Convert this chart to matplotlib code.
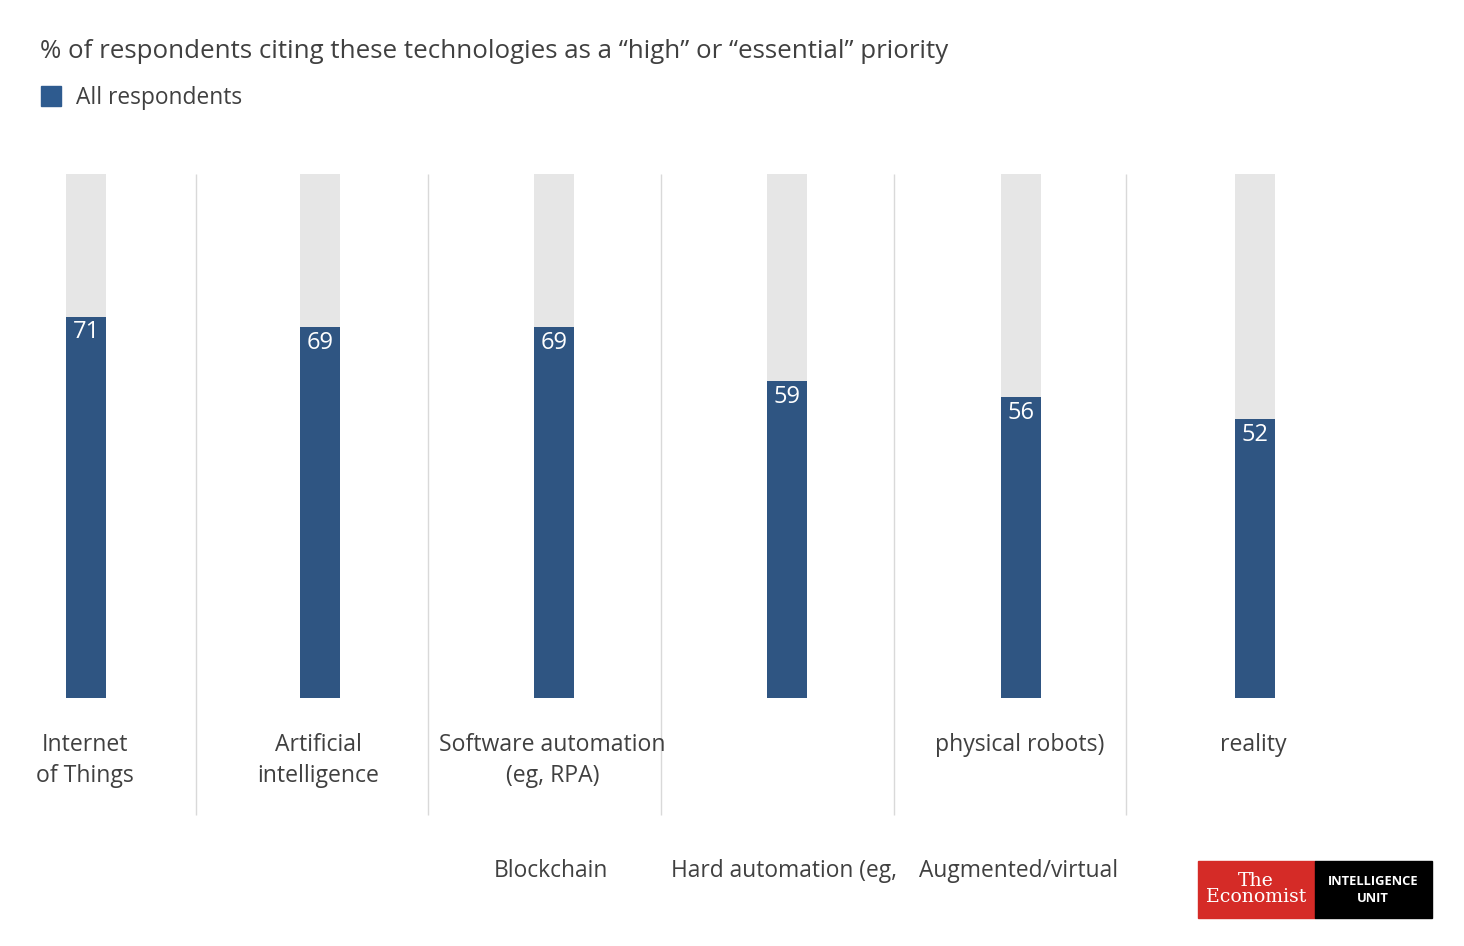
import matplotlib.pyplot as plt
import matplotlib.transforms as mtransforms
from matplotlib.patches import Rectangle

plt.rcParams['font.family'] = ['Open Sans', 'DejaVu Sans']

technologies = ['Internet of Things', 'Artificial intelligence', 'Software automation (eg, RPA)',
                'Blockchain', 'Hard automation (eg, physical robots)', 'Augmented/virtual reality']
values = [71, 69, 69, 59, 56, 52]
background = 97.5
# label text as it is laid out in the original (upper row under the bars, lower row near the bottom)
upper_labels = ['Internet\nof Things', 'Artificial\nintelligence', 'Software automation\n(eg, RPA)',
                '', 'physical robots)', 'reality']
lower_labels = ['', '', 'Blockchain', 'Hard automation (eg,', 'Augmented/virtual', '']

blue = '#2F5582'
grey = '#E6E6E6'
text_col = '#404040'

W, H = 1464, 946
fig = plt.figure(figsize=(W / 100, H / 100), dpi=100)
ax = fig.add_axes([15.9 / W, (H - 698) / H, (1372 - 15.9) / W, 537 / H])
ax.set_xlim(-0.3, 5.5)
ax.set_ylim(0, 100)
ax.axis('off')

x = list(range(len(values)))
bw = 0.171
ax.bar(x, [background] * len(x), width=bw, color=grey, zorder=1)
ax.bar(x, values, width=bw, color=blue, zorder=2)
for xi, v in zip(x, values):
    ax.text(xi, v - 0.7, str(v), ha='center', va='top', color='white', fontsize=17, zorder=3)

# separators between columns
seps = [0.47 + 0.9945 * i for i in range(len(x) - 1)]
ax.vlines(seps, -21.8, background, color='#D9D9D9', lw=1, clip_on=False, zorder=0)

tr = mtransforms.blended_transform_factory(ax.transData, fig.transFigure)
for xi, lab in zip(x, upper_labels):
    if lab:
        ax.text(xi - 0.006, 1 - 733 / H, lab, transform=tr, ha='center', va='top', fontsize=16.6,
                color=text_col, linespacing=1.38)
for xi, lab in zip(x, lower_labels):
    if lab:
        ax.text(xi - 0.013, 1 - 871 / H, lab, transform=tr, ha='center', va='center', fontsize=16.4,
                color=text_col)

# title and legend
fig.text(40 / W, 1 - 51 / H, '% of respondents citing these technologies as a “high” or “essential” priority',
         ha='left', va='center', fontsize=18.6, color=text_col)
fig.patches.append(Rectangle((41 / W, 1 - 106 / H), 20 / W, 20 / H, transform=fig.transFigure,
                             color='#2E5B8F'))
fig.text(76 / W, 1 - 98 / H, 'All respondents', ha='left', va='center', fontsize=16.4, color=text_col)

# logo
fig.patches.append(Rectangle((1198 / W, 1 - 918 / H), 117 / W, 57 / H, transform=fig.transFigure,
                             color='#D52B27'))
fig.patches.append(Rectangle((1315 / W, 1 - 918 / H), 117 / W, 57 / H, transform=fig.transFigure,
                             color='black'))
fig.text(1256 / W, 1 - 889 / H, 'The\nEconomist', ha='center', va='center', fontsize=13.6,
         color='white', family='DejaVu Serif', linespacing=0.85)
fig.text(1373 / W, 1 - 890 / H, 'INTELLIGENCE\nUNIT', ha='center', va='center', fontsize=9.3,
         color='white', weight='bold', linespacing=1.35)

fig.savefig('out.png', dpi=100, facecolor='white')
